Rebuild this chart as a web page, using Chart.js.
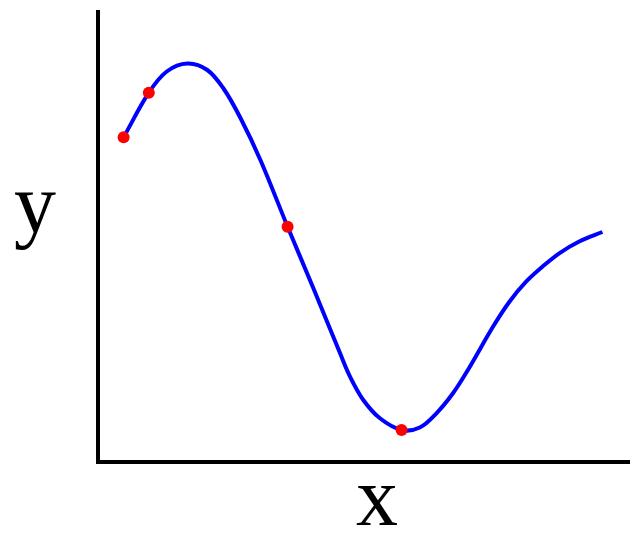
<!DOCTYPE html>
<html>
<head>
<meta charset="utf-8">
<script src="https://cdn.jsdelivr.net/npm/chart.js@4/dist/chart.umd.min.js"></script>
<style>
  html, body { margin: 0; padding: 0; background: #fff; }
  #wrap { width: 635px; height: 536px; }
</style>
</head>
<body>
<div id="wrap"><canvas id="plot"></canvas></div>
<script>
// curve samples (arbitrary units)
var curveX = [25.7, 51, 69, 89.7, 109.7, 126.3, 143, 163, 190.3, 216.3, 243, 253, 266.3, 283, 304.7, 323, 339.7, 356.3, 371.3, 396.3, 413, 429.7, 446.3, 463, 483, 506.3]
var curveY = [324.7, 369.3, 390.5, 398.5, 392, 373, 344, 302, 235.3, 173.5, 108.7, 85.3, 62, 43.7, 32, 34.5, 48.7, 68.7, 92, 135, 160.3, 180.3, 195.5, 208.7, 220.5, 230]

// the red sample points
var sampleX = [25.7, 51, 190.3, 304.7]
var sampleY = [324.7, 369.3, 235.3, 32]

var xLabel = 'x'
var yLabel = 'y'

function toPoints(xs, ys){
  var pts = []
  for(var i = 0; i < xs.length; i++){
    pts.push({x: xs[i], y: ys[i]})
  }
  return pts
}

// draws the upright axis letters
const axisLetters = {
  id: 'axisLetters',
  afterDraw(chart){
    const ctx = chart.ctx
    const area = chart.chartArea
    ctx.save()
    ctx.fillStyle = '#000'
    ctx.font = '84px "Liberation Serif", "DejaVu Serif", serif'
    ctx.textAlign = 'center'
    ctx.textBaseline = 'alphabetic'
    ctx.fillText(xLabel, area.left + 279, 525)
    ctx.fillText(yLabel, 35, 232)
    ctx.restore()
  }
}

const chartInstance = new Chart(document.getElementById('plot'), {
  type: 'scatter',
  data: {
    datasets: [
      {
        data: toPoints(curveX, curveY),
        showLine: true,
        borderColor: '#0000ff',
        borderWidth: 4,
        pointRadius: 0,
        tension: 0.35,
        order: 2
      },
      {
        data: toPoints(sampleX, sampleY),
        showLine: false,
        pointRadius: 6,
        pointBackgroundColor: '#ff0000',
        pointBorderWidth: 0,
        order: 1
      }
    ]
  },
  options: {
    responsive: true,
    maintainAspectRatio: false,
    animation: false,
    layout: { padding: { top: 12, right: 5, left: 0, bottom: 0 } },
    plugins: {
      legend: { display: false },
      tooltip: { enabled: false }
    },
    scales: {
      x: {
        type: 'linear',
        min: 0,
        max: 533,
        ticks: { display: false },
        grid: { display: false },
        border: { display: true, color: '#000', width: 4 },
        afterFit: function(scale){ scale.height = 74 }
      },
      y: {
        type: 'linear',
        min: 0,
        max: 450,
        ticks: { display: false },
        grid: { display: false },
        border: { display: true, color: '#000', width: 4 },
        afterFit: function(scale){ scale.width = 98 }
      }
    }
  },
  plugins: [axisLetters]
});
</script>
</body>
</html>
